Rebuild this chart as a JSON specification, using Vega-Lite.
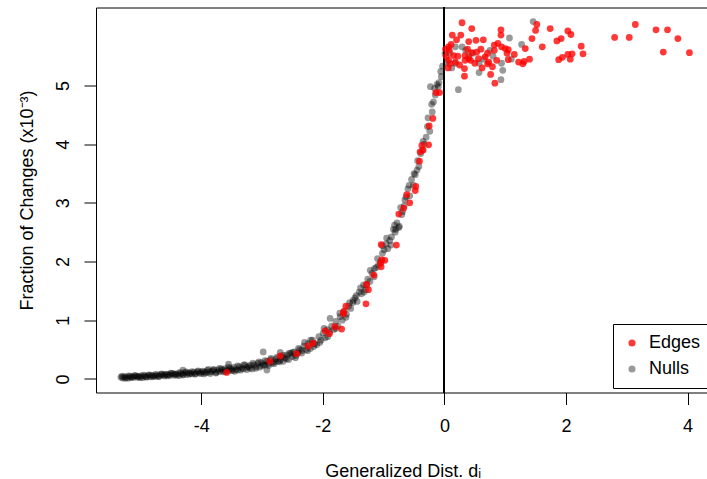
{
  "$schema": "https://vega.github.io/schema/vega-lite/v6.json",
  "width": 613.5,
  "height": 385,
  "autosize": {"type": "none"},
  "padding": {"left": 96, "top": 7.5, "right": 0, "bottom": 86.5},
  "background": "white",
  "config": {
    "view": {"stroke": "black", "strokeWidth": 1},
    "font": "Liberation Sans",
    "axis": {"domain": false, "grid": false, "tickColor": "black", "tickWidth": 1, "tickSize": 12, "labelColor": "black", "labelFontSize": 18, "titleFontSize": 18, "titleFontWeight": "normal", "titleColor": "black", "labelFont": "Liberation Sans", "titleFont": "Liberation Sans"}
  },
  "data": {"values": [
    {"d":-5.32,"f":0.03,"t":"Nulls"},{"d":-5.29,"f":0.015,"t":"Nulls"},{"d":-5.26,"f":0.04,"t":"Nulls"},{"d":-5.23,"f":0.025,"t":"Nulls"},{"d":-5.2,"f":0.012,"t":"Nulls"},{"d":-5.17,"f":0.045,"t":"Nulls"},{"d":-5.14,"f":0.035,"t":"Nulls"},{"d":-5.11,"f":0.028,"t":"Nulls"},{"d":-5.08,"f":0.055,"t":"Nulls"},{"d":-5.05,"f":0.024,"t":"Nulls"},
    {"d":-5.02,"f":0.04,"t":"Nulls"},{"d":-4.99,"f":0.05,"t":"Nulls"},{"d":-4.96,"f":0.022,"t":"Nulls"},{"d":-4.93,"f":0.05,"t":"Nulls"},{"d":-4.9,"f":0.038,"t":"Nulls"},{"d":-4.87,"f":0.065,"t":"Nulls"},{"d":-4.84,"f":0.035,"t":"Nulls"},{"d":-4.81,"f":0.06,"t":"Nulls"},{"d":-4.78,"f":0.05,"t":"Nulls"},{"d":-4.75,"f":0.042,"t":"Nulls"},
    {"d":-4.72,"f":0.068,"t":"Nulls"},{"d":-4.69,"f":0.045,"t":"Nulls"},{"d":-4.66,"f":0.078,"t":"Nulls"},{"d":-4.63,"f":0.06,"t":"Nulls"},{"d":-4.6,"f":0.05,"t":"Nulls"},{"d":-4.57,"f":0.08,"t":"Nulls"},{"d":-4.54,"f":0.072,"t":"Nulls"},{"d":-4.51,"f":0.062,"t":"Nulls"},{"d":-4.48,"f":0.093,"t":"Nulls"},{"d":-4.45,"f":0.06,"t":"Nulls"},
    {"d":-4.42,"f":0.08,"t":"Nulls"},{"d":-4.39,"f":0.09,"t":"Nulls"},{"d":-4.36,"f":0.058,"t":"Nulls"},{"d":-4.33,"f":0.09,"t":"Nulls"},{"d":-4.3,"f":0.078,"t":"Nulls"},{"d":-4.27,"f":0.105,"t":"Nulls"},{"d":-4.24,"f":0.075,"t":"Nulls"},{"d":-4.21,"f":0.108,"t":"Nulls"},{"d":-4.18,"f":0.096,"t":"Nulls"},{"d":-4.15,"f":0.085,"t":"Nulls"},
    {"d":-4.12,"f":0.115,"t":"Nulls"},{"d":-4.09,"f":0.09,"t":"Nulls"},{"d":-4.06,"f":0.125,"t":"Nulls"},{"d":-4.03,"f":0.1,"t":"Nulls"},{"d":-4.0,"f":0.09,"t":"Nulls"},{"d":-3.97,"f":0.13,"t":"Nulls"},{"d":-3.94,"f":0.115,"t":"Nulls"},{"d":-3.91,"f":0.105,"t":"Nulls"},{"d":-3.88,"f":0.16,"t":"Nulls"},{"d":-3.85,"f":0.09,"t":"Nulls"},
    {"d":-3.82,"f":0.13,"t":"Nulls"},{"d":-3.79,"f":0.15,"t":"Nulls"},{"d":-3.76,"f":0.1,"t":"Nulls"},{"d":-3.73,"f":0.15,"t":"Nulls"},{"d":-3.7,"f":0.125,"t":"Nulls"},{"d":-3.67,"f":0.17,"t":"Nulls"},{"d":-3.64,"f":0.12,"t":"Nulls"},{"d":-3.61,"f":0.175,"t":"Nulls"},{"d":-3.58,"f":0.148,"t":"Nulls"},{"d":-3.55,"f":0.14,"t":"Nulls"},
    {"d":-3.52,"f":0.18,"t":"Nulls"},{"d":-3.49,"f":0.14,"t":"Nulls"},{"d":-3.46,"f":0.2,"t":"Nulls"},{"d":-3.43,"f":0.16,"t":"Nulls"},{"d":-3.4,"f":0.15,"t":"Nulls"},{"d":-3.37,"f":0.21,"t":"Nulls"},{"d":-3.34,"f":0.185,"t":"Nulls"},{"d":-3.31,"f":0.17,"t":"Nulls"},{"d":-3.28,"f":0.24,"t":"Nulls"},{"d":-3.25,"f":0.16,"t":"Nulls"},
    {"d":-3.22,"f":0.21,"t":"Nulls"},{"d":-3.19,"f":0.235,"t":"Nulls"},{"d":-3.16,"f":0.17,"t":"Nulls"},{"d":-3.13,"f":0.24,"t":"Nulls"},{"d":-3.1,"f":0.21,"t":"Nulls"},{"d":-3.07,"f":0.265,"t":"Nulls"},{"d":-3.04,"f":0.2,"t":"Nulls"},{"d":-3.01,"f":0.275,"t":"Nulls"},{"d":-2.98,"f":0.24,"t":"Nulls"},{"d":-2.95,"f":0.235,"t":"Nulls"},
    {"d":-2.92,"f":0.3,"t":"Nulls"},{"d":-2.89,"f":0.23,"t":"Nulls"},{"d":-2.86,"f":0.33,"t":"Nulls"},{"d":-2.83,"f":0.27,"t":"Nulls"},{"d":-2.8,"f":0.26,"t":"Nulls"},{"d":-2.77,"f":0.34,"t":"Nulls"},{"d":-2.74,"f":0.3,"t":"Nulls"},{"d":-2.71,"f":0.29,"t":"Nulls"},{"d":-2.68,"f":0.38,"t":"Nulls"},{"d":-2.65,"f":0.3,"t":"Nulls"},
    {"d":-2.62,"f":0.36,"t":"Nulls"},{"d":-2.59,"f":0.41,"t":"Nulls"},{"d":-2.56,"f":0.33,"t":"Nulls"},{"d":-2.53,"f":0.43,"t":"Nulls"},{"d":-2.5,"f":0.38,"t":"Nulls"},{"d":-2.47,"f":0.46,"t":"Nulls"},{"d":-2.44,"f":0.4,"t":"Nulls"},{"d":-2.41,"f":0.44,"t":"Nulls"},
    {"d":-2.98,"f":0.46,"t":"Nulls"},{"d":-2.92,"f":0.15,"t":"Nulls"},{"d":-3.55,"f":0.25,"t":"Nulls"},{"d":-4.3,"f":0.15,"t":"Nulls"},{"d":-2.7,"f":0.45,"t":"Nulls"},
    {"d":-5.3,"f":0.045,"t":"Nulls"},{"d":-5.25,"f":0.01,"t":"Nulls"},{"d":-5.2,"f":0.05,"t":"Nulls"},{"d":-5.15,"f":0.02,"t":"Nulls"},{"d":-5.1,"f":0.055,"t":"Nulls"},{"d":-5.05,"f":0.045,"t":"Nulls"},{"d":-5.0,"f":0.02,"t":"Nulls"},{"d":-4.95,"f":0.065,"t":"Nulls"},{"d":-4.9,"f":0.03,"t":"Nulls"},{"d":-4.85,"f":0.07,"t":"Nulls"},
    {"d":-4.8,"f":0.035,"t":"Nulls"},{"d":-4.75,"f":0.075,"t":"Nulls"},{"d":-4.7,"f":0.04,"t":"Nulls"},{"d":-4.65,"f":0.085,"t":"Nulls"},{"d":-4.6,"f":0.075,"t":"Nulls"},{"d":-4.55,"f":0.05,"t":"Nulls"},{"d":-4.5,"f":0.1,"t":"Nulls"},{"d":-4.45,"f":0.085,"t":"Nulls"},{"d":-4.4,"f":0.06,"t":"Nulls"},{"d":-4.35,"f":0.11,"t":"Nulls"},
    {"d":-4.3,"f":0.065,"t":"Nulls"},{"d":-4.25,"f":0.12,"t":"Nulls"},{"d":-4.2,"f":0.08,"t":"Nulls"},{"d":-4.15,"f":0.125,"t":"Nulls"},{"d":-4.1,"f":0.08,"t":"Nulls"},{"d":-4.05,"f":0.135,"t":"Nulls"},{"d":-4.0,"f":0.12,"t":"Nulls"},{"d":-3.95,"f":0.085,"t":"Nulls"},{"d":-3.9,"f":0.145,"t":"Nulls"},{"d":-3.85,"f":0.12,"t":"Nulls"},
    {"d":-3.8,"f":0.16,"t":"Nulls"},{"d":-3.75,"f":0.11,"t":"Nulls"},{"d":-3.7,"f":0.18,"t":"Nulls"},{"d":-3.65,"f":0.15,"t":"Nulls"},{"d":-3.6,"f":0.12,"t":"Nulls"},{"d":-3.55,"f":0.2,"t":"Nulls"},{"d":-3.5,"f":0.16,"t":"Nulls"},{"d":-3.45,"f":0.13,"t":"Nulls"},{"d":-3.4,"f":0.22,"t":"Nulls"},{"d":-3.35,"f":0.15,"t":"Nulls"},
    {"d":-3.3,"f":0.24,"t":"Nulls"},{"d":-3.25,"f":0.2,"t":"Nulls"},{"d":-3.2,"f":0.18,"t":"Nulls"},{"d":-3.15,"f":0.27,"t":"Nulls"},{"d":-3.1,"f":0.18,"t":"Nulls"},{"d":-3.05,"f":0.29,"t":"Nulls"},{"d":-3.0,"f":0.22,"t":"Nulls"},{"d":-2.95,"f":0.31,"t":"Nulls"},{"d":-2.9,"f":0.26,"t":"Nulls"},{"d":-2.85,"f":0.35,"t":"Nulls"},
    {"d":-2.8,"f":0.29,"t":"Nulls"},{"d":-2.75,"f":0.37,"t":"Nulls"},{"d":-2.7,"f":0.32,"t":"Nulls"},{"d":-2.65,"f":0.4,"t":"Nulls"},{"d":-2.6,"f":0.34,"t":"Nulls"},{"d":-2.55,"f":0.44,"t":"Nulls"},{"d":-2.5,"f":0.45,"t":"Nulls"},{"d":-2.45,"f":0.36,"t":"Nulls"},{"d":-2.4,"f":0.52,"t":"Nulls"},{"d":-2.35,"f":0.48,"t":"Nulls"},
    {"d":-2.3,"f":0.62,"t":"Nulls"},{"d":-2.25,"f":0.48,"t":"Nulls"},{"d":-2.2,"f":0.66,"t":"Nulls"},{"d":-2.15,"f":0.55,"t":"Nulls"},{"d":-2.05,"f":0.62,"t":"Nulls"},{"d":-1.98,"f":0.86,"t":"Nulls"},{"d":-1.92,"f":0.72,"t":"Nulls"},{"d":-1.78,"f":0.86,"t":"Nulls"},{"d":-1.72,"f":1.12,"t":"Nulls"},{"d":-1.62,"f":1.05,"t":"Nulls"},
    {"d":-1.56,"f":1.3,"t":"Nulls"},{"d":-1.45,"f":1.42,"t":"Nulls"},{"d":-1.38,"f":1.55,"t":"Nulls"},{"d":-1.32,"f":1.48,"t":"Nulls"},{"d":-1.22,"f":1.85,"t":"Nulls"},{"d":-1.15,"f":1.88,"t":"Nulls"},{"d":-1.1,"f":2.05,"t":"Nulls"},{"d":-0.95,"f":2.4,"t":"Nulls"},{"d":-0.88,"f":2.28,"t":"Nulls"},{"d":-0.82,"f":2.62,"t":"Nulls"},
    {"d":-0.7,"f":2.8,"t":"Nulls"},{"d":-0.65,"f":3.05,"t":"Nulls"},{"d":-0.58,"f":3.3,"t":"Nulls"},{"d":-0.5,"f":3.5,"t":"Nulls"},{"d":-0.44,"f":3.72,"t":"Nulls"},{"d":-0.35,"f":4.05,"t":"Nulls"},{"d":-0.28,"f":4.3,"t":"Nulls"},{"d":-0.2,"f":4.55,"t":"Nulls"},{"d":-0.16,"f":4.95,"t":"Nulls"},{"d":-0.05,"f":5.15,"t":"Nulls"},
    {"d":-2.38,"f":0.5,"t":"Nulls"},{"d":-2.345,"f":0.44,"t":"Nulls"},{"d":-2.31,"f":0.56,"t":"Nulls"},{"d":-2.275,"f":0.5,"t":"Nulls"},{"d":-2.24,"f":0.6,"t":"Nulls"},{"d":-2.205,"f":0.52,"t":"Nulls"},{"d":-2.17,"f":0.66,"t":"Nulls"},{"d":-2.135,"f":0.6,"t":"Nulls"},{"d":-2.1,"f":0.58,"t":"Nulls"},{"d":-2.065,"f":0.72,"t":"Nulls"},
    {"d":-2.03,"f":0.66,"t":"Nulls"},{"d":-1.995,"f":0.78,"t":"Nulls"},{"d":-1.96,"f":0.7,"t":"Nulls"},{"d":-1.925,"f":0.84,"t":"Nulls"},{"d":-1.89,"f":0.8,"t":"Nulls"},{"d":-1.855,"f":0.9,"t":"Nulls"},{"d":-1.82,"f":0.84,"t":"Nulls"},{"d":-1.785,"f":0.98,"t":"Nulls"},{"d":-1.75,"f":0.9,"t":"Nulls"},{"d":-1.715,"f":1.06,"t":"Nulls"},
    {"d":-1.68,"f":1.0,"t":"Nulls"},{"d":-1.645,"f":1.16,"t":"Nulls"},{"d":-1.61,"f":1.1,"t":"Nulls"},{"d":-1.575,"f":1.24,"t":"Nulls"},{"d":-1.54,"f":1.2,"t":"Nulls"},{"d":-1.505,"f":1.3,"t":"Nulls"},{"d":-1.47,"f":1.38,"t":"Nulls"},{"d":-1.435,"f":1.32,"t":"Nulls"},{"d":-1.4,"f":1.48,"t":"Nulls"},{"d":-1.365,"f":1.45,"t":"Nulls"},
    {"d":-1.33,"f":1.6,"t":"Nulls"},{"d":-1.295,"f":1.52,"t":"Nulls"},{"d":-1.26,"f":1.7,"t":"Nulls"},{"d":-1.225,"f":1.66,"t":"Nulls"},{"d":-1.19,"f":1.8,"t":"Nulls"},{"d":-1.155,"f":1.74,"t":"Nulls"},{"d":-1.12,"f":1.9,"t":"Nulls"},{"d":-1.085,"f":1.94,"t":"Nulls"},{"d":-1.05,"f":2.0,"t":"Nulls"},{"d":-1.02,"f":2.14,"t":"Nulls"},
    {"d":-1.88,"f":1.03,"t":"Nulls"},{"d":-1.5,"f":1.34,"t":"Nulls"},{"d":-1.02,"f":2.27,"t":"Nulls"},{"d":-1.28,"f":1.6,"t":"Nulls"},
    {"d":-0.99,"f":2.2,"t":"Nulls"},{"d":-0.96,"f":2.3,"t":"Nulls"},{"d":-0.93,"f":2.22,"t":"Nulls"},{"d":-0.9,"f":2.36,"t":"Nulls"},{"d":-0.87,"f":2.42,"t":"Nulls"},{"d":-0.84,"f":2.55,"t":"Nulls"},{"d":-0.81,"f":2.5,"t":"Nulls"},{"d":-0.78,"f":2.66,"t":"Nulls"},{"d":-0.75,"f":2.58,"t":"Nulls"},{"d":-0.72,"f":2.92,"t":"Nulls"},
    {"d":-0.69,"f":2.85,"t":"Nulls"},{"d":-0.66,"f":2.95,"t":"Nulls"},{"d":-0.63,"f":3.1,"t":"Nulls"},{"d":-0.6,"f":3.24,"t":"Nulls"},{"d":-0.57,"f":3.12,"t":"Nulls"},{"d":-0.54,"f":3.4,"t":"Nulls"},{"d":-0.51,"f":3.3,"t":"Nulls"},{"d":-0.48,"f":3.48,"t":"Nulls"},{"d":-0.45,"f":3.56,"t":"Nulls"},{"d":-0.42,"f":3.62,"t":"Nulls"},
    {"d":-0.39,"f":3.84,"t":"Nulls"},{"d":-0.36,"f":3.9,"t":"Nulls"},{"d":-0.33,"f":4.0,"t":"Nulls"},{"d":-0.3,"f":4.12,"t":"Nulls"},{"d":-0.27,"f":4.45,"t":"Nulls"},{"d":-0.24,"f":4.22,"t":"Nulls"},{"d":-0.21,"f":4.68,"t":"Nulls"},{"d":-0.18,"f":4.72,"t":"Nulls"},{"d":-0.15,"f":4.84,"t":"Nulls"},{"d":-0.12,"f":5.02,"t":"Nulls"},
    {"d":-0.09,"f":5.05,"t":"Nulls"},{"d":-0.06,"f":5.24,"t":"Nulls"},{"d":-0.03,"f":5.33,"t":"Nulls"},{"d":-0.1,"f":4.98,"t":"Nulls"},{"d":-0.23,"f":4.98,"t":"Nulls"},{"d":-0.8,"f":2.55,"t":"Nulls"},{"d":-0.74,"f":2.6,"t":"Nulls"},
    {"d":0.01,"f":5.54,"t":"Nulls"},{"d":0.04,"f":5.4,"t":"Nulls"},{"d":0.09,"f":5.55,"t":"Nulls"},{"d":0.12,"f":5.3,"t":"Nulls"},{"d":0.18,"f":5.66,"t":"Nulls"},{"d":0.18,"f":5.38,"t":"Nulls"},{"d":0.23,"f":4.93,"t":"Nulls"},{"d":0.29,"f":5.66,"t":"Nulls"},{"d":0.35,"f":5.6,"t":"Nulls"},{"d":0.47,"f":5.55,"t":"Nulls"},
    {"d":0.57,"f":5.38,"t":"Nulls"},{"d":0.57,"f":5.22,"t":"Nulls"},{"d":0.65,"f":5.45,"t":"Nulls"},{"d":0.94,"f":5.38,"t":"Nulls"},{"d":0.96,"f":5.26,"t":"Nulls"},{"d":0.93,"f":5.1,"t":"Nulls"},{"d":1.07,"f":5.81,"t":"Nulls"},{"d":1.27,"f":5.7,"t":"Nulls"},{"d":1.46,"f":6.09,"t":"Nulls"},{"d":0.8,"f":5.5,"t":"Nulls"},
    {"d":0.4,"f":5.5,"t":"Nulls"},{"d":0.75,"f":5.6,"t":"Nulls"},{"d":1.1,"f":5.45,"t":"Nulls"},
    {"d":0.29,"f":6.07,"t":"Edges"},{"d":0.45,"f":5.97,"t":"Edges"},{"d":0.13,"f":5.86,"t":"Edges"},{"d":0.27,"f":5.86,"t":"Edges"},{"d":0.4,"f":5.75,"t":"Edges"},{"d":0.52,"f":5.77,"t":"Edges"},{"d":0.64,"f":5.78,"t":"Edges"},{"d":0.93,"f":5.95,"t":"Edges"},{"d":0.93,"f":5.86,"t":"Edges"},{"d":1.52,"f":6.04,"t":"Edges"},
    {"d":1.5,"f":5.94,"t":"Edges"},{"d":1.74,"f":5.97,"t":"Edges"},{"d":1.44,"f":5.8,"t":"Edges"},{"d":2.03,"f":5.93,"t":"Edges"},{"d":2.08,"f":5.87,"t":"Edges"},{"d":1.85,"f":5.76,"t":"Edges"},{"d":1.92,"f":5.8,"t":"Edges"},{"d":1.61,"f":5.66,"t":"Edges"},{"d":1.33,"f":5.63,"t":"Edges"},{"d":2.25,"f":5.67,"t":"Edges"},
    {"d":2.28,"f":5.54,"t":"Edges"},{"d":2.1,"f":5.54,"t":"Edges"},{"d":2.03,"f":5.53,"t":"Edges"},{"d":2.07,"f":5.45,"t":"Edges"},{"d":1.94,"f":5.48,"t":"Edges"},{"d":1.88,"f":5.44,"t":"Edges"},{"d":2.8,"f":5.82,"t":"Edges"},{"d":3.04,"f":5.82,"t":"Edges"},{"d":3.14,"f":6.04,"t":"Edges"},{"d":3.48,"f":5.95,"t":"Edges"},
    {"d":3.67,"f":5.95,"t":"Edges"},{"d":3.84,"f":5.8,"t":"Edges"},{"d":3.6,"f":5.57,"t":"Edges"},{"d":4.03,"f":5.56,"t":"Edges"},{"d":0.07,"f":5.66,"t":"Edges"},{"d":0.08,"f":5.6,"t":"Edges"},{"d":0.15,"f":5.51,"t":"Edges"},{"d":0.07,"f":5.43,"t":"Edges"},{"d":0.09,"f":5.37,"t":"Edges"},{"d":0.06,"f":5.3,"t":"Edges"},
    {"d":0.18,"f":5.4,"t":"Edges"},{"d":0.34,"f":5.51,"t":"Edges"},{"d":0.4,"f":5.46,"t":"Edges"},{"d":0.34,"f":5.43,"t":"Edges"},{"d":0.45,"f":5.56,"t":"Edges"},{"d":0.43,"f":5.43,"t":"Edges"},{"d":0.53,"f":5.57,"t":"Edges"},{"d":0.56,"f":5.46,"t":"Edges"},{"d":0.33,"f":5.29,"t":"Edges"},{"d":0.33,"f":5.16,"t":"Edges"},
    {"d":0.71,"f":5.55,"t":"Edges"},{"d":0.67,"f":5.49,"t":"Edges"},{"d":0.71,"f":5.37,"t":"Edges"},{"d":0.76,"f":5.19,"t":"Edges"},{"d":0.83,"f":5.04,"t":"Edges"},{"d":0.79,"f":5.32,"t":"Edges"},{"d":0.82,"f":5.69,"t":"Edges"},{"d":0.82,"f":5.6,"t":"Edges"},{"d":0.86,"f":5.43,"t":"Edges"},{"d":0.94,"f":5.66,"t":"Edges"},
    {"d":1.0,"f":5.63,"t":"Edges"},{"d":1.05,"f":5.61,"t":"Edges"},{"d":1.03,"f":5.55,"t":"Edges"},{"d":1.05,"f":5.44,"t":"Edges"},{"d":1.15,"f":5.53,"t":"Edges"},{"d":1.22,"f":5.4,"t":"Edges"},{"d":1.29,"f":5.37,"t":"Edges"},{"d":1.31,"f":5.41,"t":"Edges"},{"d":0.73,"f":5.4,"t":"Edges"},{"d":0.02,"f":5.62,"t":"Edges"},
    {"d":0.03,"f":5.5,"t":"Edges"},{"d":0.22,"f":5.5,"t":"Edges"},{"d":0.25,"f":5.35,"t":"Edges"},{"d":0.5,"f":5.38,"t":"Edges"},{"d":0.6,"f":5.62,"t":"Edges"},{"d":0.11,"f":5.7,"t":"Edges"},{"d":0.2,"f":5.78,"t":"Edges"},{"d":0.38,"f":5.62,"t":"Edges"},{"d":0.62,"f":5.3,"t":"Edges"},{"d":0.88,"f":5.72,"t":"Edges"},
    {"d":1.4,"f":5.45,"t":"Edges"},
    {"d":-0.14,"f":4.88,"t":"Edges"},{"d":-0.08,"f":4.88,"t":"Edges"},{"d":-0.19,"f":4.44,"t":"Edges"},{"d":-0.25,"f":4.31,"t":"Edges"},{"d":-0.37,"f":3.98,"t":"Edges"},{"d":-0.26,"f":3.99,"t":"Edges"},{"d":-0.35,"f":3.9,"t":"Edges"},{"d":-0.4,"f":3.87,"t":"Edges"},{"d":-0.41,"f":3.71,"t":"Edges"},{"d":-0.47,"f":3.28,"t":"Edges"},
    {"d":-0.48,"f":3.21,"t":"Edges"},{"d":-0.62,"f":3.14,"t":"Edges"},{"d":-0.57,"f":3.0,"t":"Edges"},{"d":-0.67,"f":2.91,"t":"Edges"},{"d":-0.75,"f":2.81,"t":"Edges"},{"d":-1.04,"f":2.29,"t":"Edges"},{"d":-0.79,"f":2.28,"t":"Edges"},{"d":-1.03,"f":2.03,"t":"Edges"},{"d":-1.05,"f":1.97,"t":"Edges"},{"d":-0.98,"f":2.02,"t":"Edges"},
    {"d":-1.04,"f":1.91,"t":"Edges"},{"d":-1.16,"f":1.77,"t":"Edges"},{"d":-1.28,"f":1.61,"t":"Edges"},{"d":-1.25,"f":1.52,"t":"Edges"},{"d":-1.29,"f":1.28,"t":"Edges"},{"d":-1.62,"f":1.24,"t":"Edges"},{"d":-1.66,"f":1.14,"t":"Edges"},{"d":-1.66,"f":1.11,"t":"Edges"},{"d":-1.8,"f":0.89,"t":"Edges"},{"d":-1.69,"f":0.85,"t":"Edges"},
    {"d":-1.96,"f":0.82,"t":"Edges"},{"d":-1.89,"f":0.77,"t":"Edges"},{"d":-2.16,"f":0.61,"t":"Edges"},{"d":-2.24,"f":0.56,"t":"Edges"},{"d":-2.43,"f":0.43,"t":"Edges"},{"d":-2.7,"f":0.39,"t":"Edges"},{"d":-2.87,"f":0.3,"t":"Edges"},{"d":-3.58,"f":0.11,"t":"Edges"}
  ]},
  "layer": [
    {
      "mark": {"type": "rule", "color": "black", "strokeWidth": 1},
      "encoding": {"x": {"datum": 0, "type": "quantitative"}}
    },
    {
      "mark": {"type": "point", "filled": true, "opacity": 1, "size": 46, "strokeWidth": 0},
      "encoding": {
        "x": {"field": "d", "type": "quantitative",
          "scale": {"domain": [-5.73, 4.36], "nice": false, "zero": false},
          "axis": {"values": [-4, -2, 0, 2, 4], "labelExpr": "'' + datum.value", "title": "Generalized Dist. dᵢ", "labelBaseline": "alphabetic", "labelPadding": 27, "titleX": 306.75, "titleY": 83.5, "titleBaseline": "alphabetic", "titleAlign": "center"}},
        "y": {"field": "f", "type": "quantitative",
          "scale": {"domain": [-0.232, 6.33], "nice": false, "zero": false},
          "axis": {"values": [0, 1, 2, 3, 4, 5], "labelExpr": "'' + datum.value", "title": "Fraction of Changes (x10⁻³)", "labelAngle": -90, "labelAlign": "center", "labelBaseline": "alphabetic", "labelPadding": 16, "titleX": -64, "titleY": 192.5, "titleAngle": -90, "titleBaseline": "alphabetic", "titleAlign": "center"}},
        "color": {"field": "t", "type": "nominal",
          "scale": {"domain": ["Edges", "Nulls"], "range": ["rgba(255,0,0,0.78)", "rgba(0,0,0,0.4)"]},
          "legend": {"title": null, "orient": "none", "legendX": 517, "legendY": 316.5, "strokeColor": "black", "fillColor": "white", "padding": 10, "symbolType": "circle", "symbolSize": 50, "symbolStrokeWidth": 0, "labelFontSize": 18, "labelColor": "black", "labelOffset": 8, "rowPadding": 8, "labelFont": "Liberation Sans"}},
        "order": {"field": "t", "sort": "descending"}
      }
    }
  ]
}
